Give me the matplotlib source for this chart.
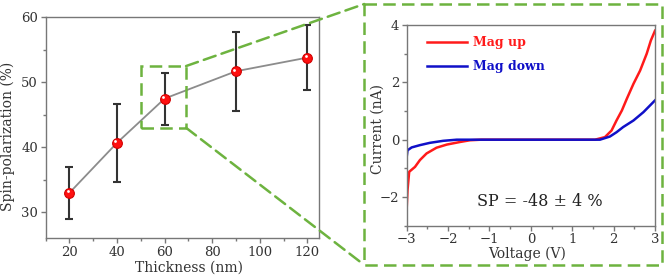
import matplotlib
matplotlib.use("Agg")
import matplotlib.pyplot as plt
from matplotlib.patches import Rectangle, ConnectionPatch
from matplotlib.ticker import MultipleLocator
import matplotlib.transforms as mtrans

# ---- data: left panel ----
thickness = [20, 40, 60, 90, 120]
spin_pol = [33.0, 40.7, 47.5, 51.7, 53.8]
err_low = [4.1, 6.1, 4.1, 6.1, 5.0]
err_high = [4.0, 5.9, 4.0, 6.0, 5.0]

# ---- data: right panel (I-V curves) ----
volt_up = [-3.0, -2.98, -2.94, -2.80, -2.68, -2.52, -2.28, -2.03, -1.71, -1.47, -1.2,
           0.0, 1.55, 1.79, 1.95, 2.07, 2.20, 2.32, 2.48, 2.64, 2.80, 2.90, 3.0]
curr_up = [-2.4, -1.76, -1.12, -0.95, -0.71, -0.48, -0.28, -0.17, -0.08, -0.02, 0.0,
           0.0, 0.0, 0.09, 0.32, 0.67, 1.02, 1.43, 1.95, 2.41, 3.0, 3.46, 3.8]
volt_down = [-3.0, -2.98, -2.88, -2.68, -2.44, -2.12, -1.79,
             0.0, 1.67, 1.91, 2.07, 2.23, 2.48, 2.72, 3.0]
curr_down = [-0.6, -0.37, -0.27, -0.19, -0.11, -0.04, 0.0,
             0.0, 0.0, 0.11, 0.26, 0.44, 0.67, 0.96, 1.37]
label_up = "Mag up"
label_down = "Mag down"
sp_text = "SP = -48 ± 4 %"

plt.rcParams['font.family'] = ['DejaVu Serif']
txt = '#333333'
spine_c = '#777777'
green = '#6db33f'

W, H = 666, 277
fig = plt.figure(figsize=(W/100, H/100), dpi=100)

def ax_rect(l, t, r, b):
    return [l/W, 1-b/H, (r-l)/W, (b-t)/H]

ax1 = fig.add_axes(ax_rect(45.7, 17.3, 319.3, 238.3))
ax2 = fig.add_axes(ax_rect(406.7, 25, 655, 225.7))

for ax in (ax1, ax2):
    for s in ax.spines.values():
        s.set_color(spine_c)
        s.set_linewidth(1.0)
    ax.tick_params(which='both', direction='out', colors=spine_c, labelcolor=txt,
                   labelsize=9.5, pad=2)
    ax.tick_params(which='major', length=3.5, width=1)
    ax.tick_params(which='minor', length=2, width=1)

# left panel
ax1.plot(thickness, spin_pol, color='#8c8c8c', lw=1.3, zorder=2)
ax1.errorbar(thickness, spin_pol, yerr=[err_low, err_high], fmt='none',
             ecolor='#333333', elinewidth=1.5, capsize=3, capthick=1.5, zorder=3)
ax1.plot(thickness, spin_pol, 'o', ms=7, mfc='#ff1010', mec='#d00000', mew=0.8, zorder=4)
hl = mtrans.offset_copy(ax1.transData, fig=fig, x=-1.2, y=1.2, units='points')
ax1.plot(thickness, spin_pol, 'o', ms=2, mfc='white', mec='none', transform=hl, zorder=5)
ax1.set_xlim(10, 125)
ax1.set_ylim(26, 60)
ax1.xaxis.set_major_locator(MultipleLocator(20))
ax1.xaxis.set_minor_locator(MultipleLocator(10))
ax1.yaxis.set_major_locator(MultipleLocator(10))
ax1.yaxis.set_minor_locator(MultipleLocator(5))
ax1.set_xlabel('Thickness (nm)', fontsize=10, color=txt, va='top')
ax1.set_ylabel('Spin-polarization (%)', fontsize=10, color=txt)
ax1.xaxis.set_label_coords(0.523, -0.1)
ax1.yaxis.set_label_coords(-0.112, 0.46)

# zoom rectangle
ax1.add_patch(Rectangle((50, 43), 19, 9.5, fill=False, ec=green, lw=1.8,
                        ls=(0, (5, 2.5)), zorder=6))

# right panel
ax2.plot(volt_up, curr_up, color='#ff1a1a', lw=1.8, label=label_up)
ax2.plot(volt_down, curr_down, color='#1010c8', lw=1.8, label=label_down)
ax2.set_xlim(-3, 3)
ax2.set_ylim(-3, 4)
ax2.xaxis.set_major_locator(MultipleLocator(1))
ax2.xaxis.set_minor_locator(MultipleLocator(0.5))
ax2.yaxis.set_major_locator(MultipleLocator(2))
ax2.yaxis.set_minor_locator(MultipleLocator(1))
ax2.set_xlabel('Voltage (V)', fontsize=10, color=txt, va='top')
ax2.set_ylabel('Current (nA)', fontsize=10, color=txt)
ax2.xaxis.set_label_coords(0.4866, -0.105)
ax2.yaxis.set_label_coords(-0.087, 0.482)
leg = ax2.legend(loc='upper left', bbox_to_anchor=(0.08, 0.945), frameon=False,
                 borderpad=0, borderaxespad=0, handlelength=3.2, handletextpad=0.5,
                 labelspacing=0.9, prop={'weight': 'bold', 'size': 9},
                 labelcolor='linecolor')
ax2.text(0.535, 0.12, sp_text, transform=ax2.transAxes, ha='center', va='center',
         fontsize=11.5, color='#222222')

# big dashed box and connectors (figure pixel coordinates)
ov = fig.add_axes([0, 0, 1, 1], zorder=-1)
ov.set_xlim(0, W)
ov.set_ylim(H, 0)
ov.axis('off')
ov.add_patch(Rectangle((364.3, 4), 661.7-364.3, 265-4, fill=False, ec=green,
                       lw=1.8, ls=(0, (5, 2.5))))
for ya, yb in ((52.5, 4), (43, 265)):
    cp = ConnectionPatch(xyA=(69, ya), coordsA=ax1.transData,
                         xyB=(364.3, yb), coordsB=ov.transData,
                         color=green, lw=1.8, ls=(0, (5, 2.5)))
    fig.add_artist(cp)

fig.savefig('out.png', dpi=100)
